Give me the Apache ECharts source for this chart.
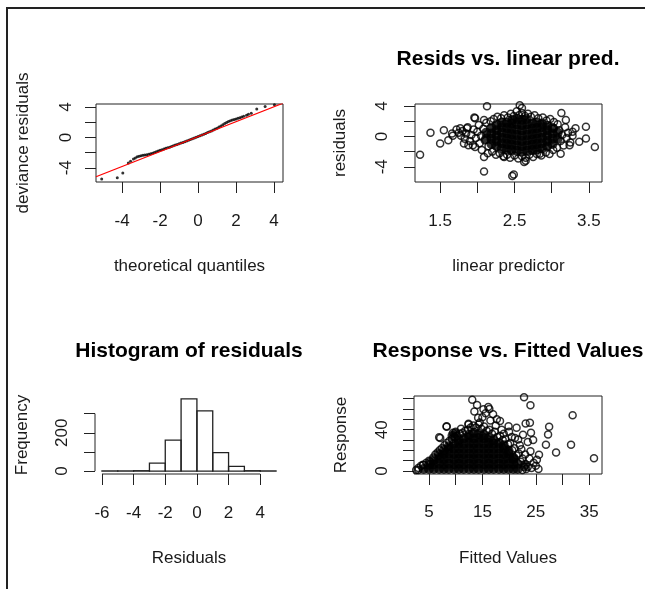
<!DOCTYPE html>
<html><head><meta charset="utf-8">
<script src="https://cdn.jsdelivr.net/npm/echarts@6/dist/echarts.min.js"></script>
<style>html,body{margin:0;padding:0;background:#fff}#c{width:645px;height:589px}</style>
</head><body><div id="c"></div>
<script>
// ---------- Panel 1: QQ plot ----------
const qqTheoretical = [-5.07,-4.25,-3.96,-3.67,-3.55,-3.40,-3.30,-3.20,-3.10,-3.00,-2.90,-2.80,-2.70,-2.60,-2.50,-2.40,-2.30,-2.20,-2.10,-2.00,-1.90,-1.80,-1.70,-1.60,-1.50,-1.40,-1.30,-1.20,-1.10,-1.00,-0.90,-0.80,-0.70,-0.60,-0.50,-0.40,-0.30,-0.20,-0.10,0.00,0.10,0.20,0.30,0.40,0.50,0.60,0.70,0.80,0.90,1.00,1.10,1.20,1.30,1.40,1.50,1.60,1.70,1.80,1.90,2.00,2.10,2.20,2.30,2.40,2.55,2.65,2.80,3.09,3.53,4.02];
const qqResiduals = [-5.47,-5.30,-4.70,-3.38,-3.15,-2.84,-2.70,-2.55,-2.48,-2.42,-2.36,-2.32,-2.28,-2.22,-2.16,-2.08,-1.98,-1.88,-1.80,-1.70,-1.62,-1.52,-1.44,-1.36,-1.28,-1.18,-1.10,-1.00,-0.92,-0.84,-0.74,-0.66,-0.56,-0.46,-0.38,-0.28,-0.18,-0.08,0.02,0.12,0.22,0.32,0.42,0.52,0.64,0.74,0.86,0.98,1.10,1.22,1.36,1.50,1.66,1.82,1.96,2.08,2.18,2.28,2.36,2.44,2.52,2.60,2.70,2.80,2.92,3.04,3.18,3.73,4.06,4.30];
const qqLineX = [-5.37, 4.47];
const qqLineY = [-5.18, 4.50];
const qqXTicks = [-4,-2,0,2,4];
const qqYTicks = [-4,-2,0,2,4];
const qqYLabels = [-4,0,4];

// ---------- Panel 2: residuals vs linear predictor ----------
const predDense = [
[2.12,-0.3],[2.12,0.5],
[2.19,-1.0],[2.19,-0.3],[2.19,0.4],[2.19,1.1],
[2.26,-1.3],[2.26,-0.6],[2.26,0.1],[2.26,0.8],[2.26,1.5],
[2.33,-1.6],[2.33,-0.9],[2.33,-0.2],[2.33,0.5],[2.33,1.2],[2.33,1.8],
[2.40,-1.7],[2.40,-1.0],[2.40,-0.3],[2.40,0.4],[2.40,1.1],[2.40,1.8],
[2.46,-1.8],[2.46,-1.1],[2.46,-0.4],[2.46,0.3],[2.46,1.0],[2.46,1.7],[2.47,2.2],
[2.53,-1.9],[2.53,-1.2],[2.53,-0.5],[2.53,0.2],[2.53,0.9],[2.53,1.6],[2.54,2.3],
[2.60,-2.0],[2.60,-1.3],[2.60,-0.6],[2.60,0.1],[2.60,0.8],[2.60,1.5],[2.60,2.2],
[2.67,-1.9],[2.67,-1.2],[2.67,-0.5],[2.67,0.2],[2.67,0.9],[2.67,1.6],[2.66,2.3],
[2.74,-1.8],[2.74,-1.1],[2.74,-0.4],[2.74,0.3],[2.74,1.0],[2.74,1.7],
[2.80,-1.7],[2.80,-1.0],[2.80,-0.3],[2.80,0.4],[2.80,1.1],[2.80,1.8],
[2.87,-1.6],[2.87,-0.9],[2.87,-0.2],[2.87,0.5],[2.87,1.2],[2.87,1.7],
[2.94,-1.3],[2.94,-0.6],[2.94,0.1],[2.94,0.8],[2.94,1.4],
[3.01,-1.0],[3.01,-0.3],[3.01,0.4],[3.01,1.1],
[3.08,-0.3],[3.08,0.5]
];
const predPoints = [
[1.72,0.9],[1.75,0.5],[1.78,0.1],[1.80,0.7],[1.83,-0.3],[1.85,0.4],[1.87,1.2],[1.90,-0.6],[1.92,0.2],[1.95,0.9],[1.97,-1.4],[1.98,-0.2],[2.00,0.6],[2.02,1.5],[2.03,-0.9],[2.05,0.1],[2.06,-1.8],[2.08,1.0],[2.10,-0.5],[2.12,1.8],[2.14,-2.2],[2.15,-1.3],
[2.18,2.0],[2.22,2.3],[2.27,2.6],[2.32,2.4],[2.36,2.8],[2.41,2.5],[2.45,3.0],[2.49,2.7],[2.53,3.3],[2.56,2.8],[2.60,3.1],[2.64,2.7],[2.68,3.0],[2.72,2.6],[2.77,2.8],[2.82,2.4],[2.88,2.5],[2.93,2.1],[2.98,2.3],[3.03,1.9],[3.08,1.6],
[2.20,-2.0],[2.25,-2.4],[2.30,-2.2],[2.35,-2.6],[2.40,-2.4],[2.44,-2.8],[2.50,-2.5],[2.55,-2.9],[2.60,-2.6],[2.65,-2.8],[2.70,-2.4],[2.75,-2.7],[2.80,-2.3],[2.86,-2.5],[2.92,-2.1],[2.97,-2.3],[3.02,-1.8],[3.07,-1.5],
[3.10,0.8],[3.12,-0.6],[3.14,0.2],[3.16,-1.2],[3.18,1.2],[3.20,-0.2],[3.22,0.5],[3.25,-0.8],[3.28,0.1],
[1.23,-2.4],[1.37,0.49],[1.50,-0.93],[1.55,0.80],[1.61,-0.49],[1.66,0.40],[1.67,0.10],[1.96,2.49],[2.09,-4.63],[2.13,3.96],[2.47,-5.20],[2.49,-5.00],[2.57,4.09],[2.60,3.73],[2.63,-3.38],[2.65,-3.20],[3.13,3.07],[3.19,2.17],[3.12,-2.27],[3.32,1.07],[3.46,1.29],[3.46,-0.27],[3.58,-1.38],[3.37,-0.71],[3.24,-1.16],[3.28,0.62],[3.03,1.07],[2.84,-2.27],[2.36,-2.70],[1.94,-1.16],[1.86,1.07],[1.77,1.07],[1.82,-0.93],[1.88,-1.16],[1.97,2.40],[2.09,-2.70],[2.09,2.17]
];
const predXTicks = [1.5,2,2.5,3,3.5];
const predXLabels = [1.5,2.5,3.5];
const predYTicks = [-4,-2,0,2,4];
const predYLabels = [-4,0,4];

// ---------- Panel 3: histogram ----------
const histBreaks = [-6,-5,-4,-3,-2,-1,0,1,2,3,4,5];
const histCounts = [1,1,2,42,162,377,314,96,25,2,1];
const histXTicks = [-6,-4,-2,0,2,4];
const histYTicks = [0,100,200,300];
const histYLabels = [0,200];

// ---------- Panel 4: response vs fitted ----------
const respDense = [
[4.0,2],[5.0,2],[5.0,6],[5.9,2],[5.9,6.5],[5.9,11],
[6.9,2],[6.9,7],[6.9,12],[6.9,16],
[7.8,2],[7.8,6.5],[7.8,11.5],[7.8,16.5],[7.8,20],
[8.7,2],[8.7,7],[8.7,12],[8.7,17],[8.7,21.5],[8.7,24],
[9.7,2],[9.7,6.5],[9.7,11.5],[9.7,16.5],[9.7,21.5],[9.7,26.5],[9.4,34],[9.9,36],
[10.6,2],[10.6,7],[10.6,12],[10.6,17],[10.6,22],[10.6,27],[10.6,30],
[11.5,2],[11.5,6.5],[11.5,11.5],[11.5,16.5],[11.5,21.5],[11.5,26.5],[11.5,31.5],
[12.5,2],[12.5,7],[12.5,12],[12.5,17],[12.5,22],[12.5,27],[12.5,32],[12.5,35],
[13.4,2],[13.4,6.5],[13.4,11.5],[13.4,16.5],[13.4,21.5],[13.4,26.5],[13.4,31.5],[13.4,37],
[14.3,2],[14.3,7],[14.3,12],[14.3,17],[14.3,22],[14.3,27],[14.3,32],[14.3,36],
[15.3,2],[15.3,6.5],[15.3,11.5],[15.3,16.5],[15.3,21.5],[15.3,26.5],[15.3,31.5],[15.3,35],
[16.2,2],[16.2,7],[16.2,12],[16.2,17],[16.2,22],[16.2,27],[16.2,32],
[17.1,2],[17.1,6.5],[17.1,11.5],[17.1,16.5],[17.1,21.5],[17.1,26.5],[17.1,30],
[18.1,2],[18.1,7],[18.1,12],[18.1,17],[18.1,22],[18.1,27],
[19.0,2],[19.0,6.5],[19.0,11.5],[19.0,16.5],[19.0,21.5],[19.0,25],
[19.9,2],[19.9,7],[19.9,12],[19.9,17],[19.9,19.5],
[20.8,2],[20.8,6.5],[20.8,11.5],[20.8,13],
[21.6,2],[21.6,7],[23.0,6]
];
const respPoints = [
[2.6,1],[3.0,3],[3.5,5],[3.9,6],[4.5,8],[5.0,10],[5.3,7],[5.8,13],[6.2,16],[6.6,18],[7.0,20],[7.4,22],[7.9,25],[8.3,27],[8.8,29],[9.3,31],[9.8,33],[10.3,34],[10.8,36],[11.3,37],[11.8,39],[12.3,40],[12.8,42],[13.3,44],[13.8,42],[14.3,45],[14.8,41],[15.3,43],[15.8,39],[16.3,40],[16.8,36],[17.3,38],[17.8,33],[18.3,34],[18.8,30],[19.3,31],[19.8,26],[20.2,27],[20.6,20],[21.0,22],[21.4,15],[21.8,17],[22.2,9],[22.5,12],[22.8,4],[23.2,2],
[7.1,32],[8.3,42.8],[12.4,45],[13.1,69],[13.5,57.5],[14.2,51.6],[15.2,59.8],[16.1,62],[16.3,60],[17.0,55],[17.7,50],[18.3,48.3],[18.6,40],[19.9,43.4],[21.4,41.8],[21.1,32],[21.7,30.4],[22.8,71.3],[24.0,63.7],[23.1,46],[23.9,46.8],[24.1,37],[24.0,19],[25.6,15.7],[25.2,10.8],[26.9,25.5],[27.3,35.3],[27.5,42.8],[28.8,18],[31.6,25.5],[31.9,54],[35.9,12.4],
[3.0,1],[3.9,5.9],[5.2,9.1],[6.9,32.6],[8.3,43.4],[12.4,45.8],[14.5,47],[15.0,52],[16.5,49],[19.0,36],[20.5,33],[22.0,25],[22.6,35],[23.5,28],[24.5,30],[22.3,21],[23.8,12],[24.6,8],[23.0,16],[20.0,38],[14.0,64],[15.6,56],[17.5,44],[11.0,41],[10.0,38],[9.5,37],
[22.5,1],[23.5,4],[24.2,3],[25.0,5],[25.5,2]
];
const respXTicks = [5,10,15,20,25,30,35];
const respXLabels = [5,15,25,35];
const respYTicks = [0,10,20,30,40,50,60,70];
const respYLabels = [0,40];

// ---------- rendering ----------
const FONT = '"Liberation Sans", Arial, Helvetica, sans-serif';
const TXT = '#1a1a1a';
const histXRange = [-6.44, 5.44];
const histYRange = [-15.1, 392];

function axis(gi, min, max, ticks, labels, name, margin, gap, isY) {
  return {
    type: 'value', gridIndex: gi, min: min, max: max,
    name: name, nameLocation: 'middle', nameGap: gap,
    nameTextStyle: {fontSize: 17, color: TXT, fontFamily: FONT},
    axisLine: {show: false, onZero: false},
    splitLine: {show: false},
    axisTick: {show: true, inside: false, length: 11, customValues: ticks, lineStyle: {color: '#222', width: 1}},
    axisLabel: {show: true, customValues: labels, margin: margin, rotate: isY ? 90 : 0,
      fontSize: 17, color: TXT, fontFamily: FONT}
  };
}
const box = {show: true, borderColor: '#222', borderWidth: 1, backgroundColor: 'transparent'};
function ring(xi, data, size, bw) {
  return {type: 'scatter', xAxisIndex: xi, yAxisIndex: xi, data: data, symbol: 'circle', symbolSize: size,
    itemStyle: {color: 'rgba(0,0,0,0)', borderColor: '#000', borderWidth: bw}, silent: true, clip: true};
}
function blob(xi, data) {
  return {type: 'scatter', xAxisIndex: xi, yAxisIndex: xi, data: data, symbol: 'circle', symbolSize: 10,
    itemStyle: {color: '#000', borderColor: '#000', borderWidth: 0}, silent: true, clip: true};
}

const chart = echarts.init(document.getElementById('c'));
chart.setOption({
  animation: false,
  backgroundColor: '#fff',
  grid: [
    Object.assign({left: 96, top: 104, width: 187, height: 78}, box),
    Object.assign({left: 415, top: 104, width: 187, height: 78}, box),
    {left: 95, top: 396, width: 188, height: 78, show: false},
    Object.assign({left: 414, top: 396, width: 188, height: 78}, box)
  ],
  xAxis: [
    axis(0, -5.37, 4.47, qqXTicks, qqXTicks, 'theoretical quantiles', 31, 76, false),
    axis(1, 1.162, 3.676, predXTicks, predXLabels, 'linear predictor', 31, 76, false),
    axis(2, histXRange[0], histXRange[1], histXTicks, histXTicks, 'Residuals', 31, 76, false),
    axis(3, 2.19, 37.4, respXTicks, respXLabels, 'Fitted Values', 30, 76, false)
  ],
  yAxis: [
    axis(0, -5.87, 4.4, qqYTicks, qqYLabels, 'deviance residuals', 21, 64, true),
    axis(1, -6.0, 4.27, predYTicks, predYLabels, 'residuals', 24, 66, true),
    axis(2, histYRange[0], histYRange[1], histYTicks, histYLabels, 'Frequency', 24, 64, true),
    axis(3, -2.9, 72.6, respYTicks, respYLabels, 'Response', 23, 64, true)
  ],
  series: [
    {type: 'scatter', xAxisIndex: 0, yAxisIndex: 0, symbol: 'circle', symbolSize: 3,
      data: qqTheoretical.map((x, i) => [x, qqResiduals[i]]), itemStyle: {color: '#000'}, silent: true},
    {type: 'line', xAxisIndex: 0, yAxisIndex: 0, symbol: 'none', silent: true,
      data: [[qqLineX[0], qqLineY[0]], [qqLineX[1], qqLineY[1]]], lineStyle: {color: '#ff0000', width: 1.2}},
    blob(1, predDense),
    ring(1, predPoints, 7, 1.5),
    {type: 'custom', xAxisIndex: 2, yAxisIndex: 2, silent: true, clip: false,
      data: histCounts.map((c, i) => [histBreaks[i], histBreaks[i + 1], c]),
      encode: {x: [0, 1], y: 2},
      renderItem: function (params, api) {
        const p0 = api.coord([api.value(0), api.value(2)]);
        const p1 = api.coord([api.value(1), 0]);
        return {type: 'rect', shape: {x: p0[0], y: p0[1], width: p1[0] - p0[0], height: p1[1] - p0[1]},
          style: {fill: 'none', stroke: '#222', lineWidth: 1.3}};
      }},
    {type: 'line', xAxisIndex: 2, yAxisIndex: 2, symbol: 'none', silent: true, clip: false,
      data: [[histXRange[0], histYTicks[0]], [histXRange[0], histYTicks[histYTicks.length - 1]]],
      lineStyle: {color: '#222', width: 1}},
    {type: 'line', xAxisIndex: 2, yAxisIndex: 2, symbol: 'none', silent: true, clip: false,
      data: [[histXTicks[0], histYRange[0]], [histXTicks[histXTicks.length - 1], histYRange[0]]],
      lineStyle: {color: '#222', width: 1}},
    blob(3, respDense),
    ring(3, respPoints, 7, 1.5)
  ],
  graphic: [
    {type: 'polyline', silent: true, shape: {points: [[7, 589], [7, 8], [645, 8]]},
      style: {stroke: '#222', lineWidth: 2, fill: 'none'}},
    {type: 'text', x: 508, y: 59, silent: true, style: {text: 'Resids vs. linear pred.', font: 'bold 21px ' + FONT,
      fill: '#000', align: 'center', verticalAlign: 'middle', textAlign: 'center', textVerticalAlign: 'middle'}},
    {type: 'text', x: 189, y: 351, silent: true, style: {text: 'Histogram of residuals', font: 'bold 21px ' + FONT,
      fill: '#000', align: 'center', verticalAlign: 'middle', textAlign: 'center', textVerticalAlign: 'middle'}},
    {type: 'text', x: 508, y: 351.5, silent: true, style: {text: 'Response vs. Fitted Values', font: 'bold 21px ' + FONT,
      fill: '#000', align: 'center', verticalAlign: 'middle', textAlign: 'center', textVerticalAlign: 'middle'}}
  ]
});
</script></body></html>
